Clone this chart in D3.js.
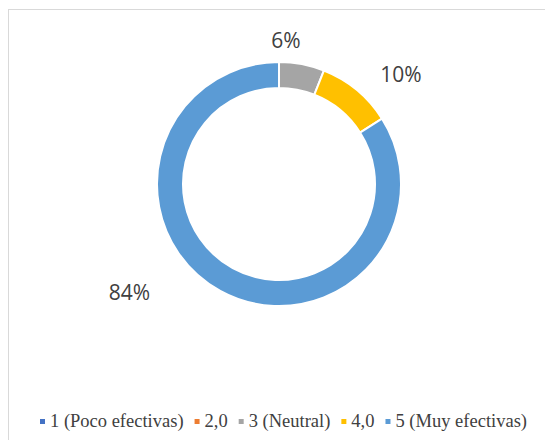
<!DOCTYPE html>
<html>
<head>
<meta charset="utf-8">
<script src="https://cdn.jsdelivr.net/npm/d3@7"></script>
<style>
  body { margin: 0; background: #fff; }
  svg { display: block; }
</style>
</head>
<body>
<div id="chart"></div>
<script>
(function () {
  'use strict';

  var categories = ["1 (Poco efectivas)", "2,0", "3 (Neutral)", "4,0", "5 (Muy efectivas)"];
  var values = [0, 0, 6, 10, 84];
  var colors = ["#4472C4", "#ED7D31", "#A5A5A5", "#FFC000", "#5B9BD5"];

  // label placement: angle (deg, clockwise from top) and distance from center
  var labelPlace = [null, null, [2.8, 144], [48, 164], [234, 185]];

  var width = 545, height = 440;
  var cx = 279, cy = 184, outerR = 122, innerR = 96;

  var svg = d3.select("#chart").append("svg")
    .attr("width", width)
    .attr("height", height);

  // chart area border
  svg.append("rect")
    .attr("x", 8.5).attr("y", 9.5)
    .attr("width", width).attr("height", height)
    .attr("fill", "none")
    .attr("stroke", "#d9d9d9")
    .attr("stroke-width", 1);

  var data = categories.map(function (c, i) {
    return { name: c, value: values[i], color: colors[i], place: labelPlace[i] };
  });

  var pie = d3.pie().sort(null).value(function (d) { return d.value; });
  var arc = d3.arc().innerRadius(innerR).outerRadius(outerR);

  var g = svg.append("g").attr("transform", "translate(" + cx + "," + cy + ")");

  var arcs = pie(data).filter(function (d) { return d.data.value > 0; });

  g.selectAll("path.slice")
    .data(arcs)
    .enter().append("path")
    .attr("class", "slice")
    .attr("d", arc)
    .attr("fill", function (d) { return d.data.color; })
    .attr("stroke", "#fff")
    .attr("stroke-width", 2);

  g.selectAll("text.lbl")
    .data(arcs)
    .enter().append("text")
    .attr("class", "lbl")
    .attr("x", function (d) { return Math.sin(d.data.place[0] * Math.PI / 180) * d.data.place[1]; })
    .attr("y", function (d) { return -Math.cos(d.data.place[0] * Math.PI / 180) * d.data.place[1]; })
    .attr("dy", "0.35em")
    .attr("text-anchor", "middle")
    .attr("font-family", "'Open Sans', 'Liberation Sans', sans-serif")
    .attr("font-size", "21px")
    .attr("fill", "#404040")
    .text(function (d) { return Math.round(d.data.value) + "%"; });

  // legend
  var legend = svg.append("g");
  var items = legend.selectAll("g.item")
    .data(data)
    .enter().append("g")
    .attr("class", "item");

  items.append("rect")
    .attr("width", 5).attr("height", 5)
    .attr("y", -8)
    .attr("fill", function (d) { return d.color; });

  items.append("text")
    .attr("x", 10)
    .attr("font-family", "'Liberation Serif', 'Times New Roman', serif")
    .attr("font-size", "18.5px")
    .attr("fill", "#404040")
    .text(function (d) { return d.name; });

  var x = 0, gap = 11;
  items.each(function () {
    var w = d3.select(this).select("text").node().getComputedTextLength();
    d3.select(this).attr("transform", "translate(" + x + ",0)");
    x += 10 + w + gap;
  });
  var total = x - gap;
  legend.attr("transform", "translate(" + (283.5 - total / 2) + ",427)");
}());
</script>
</body>
</html>
